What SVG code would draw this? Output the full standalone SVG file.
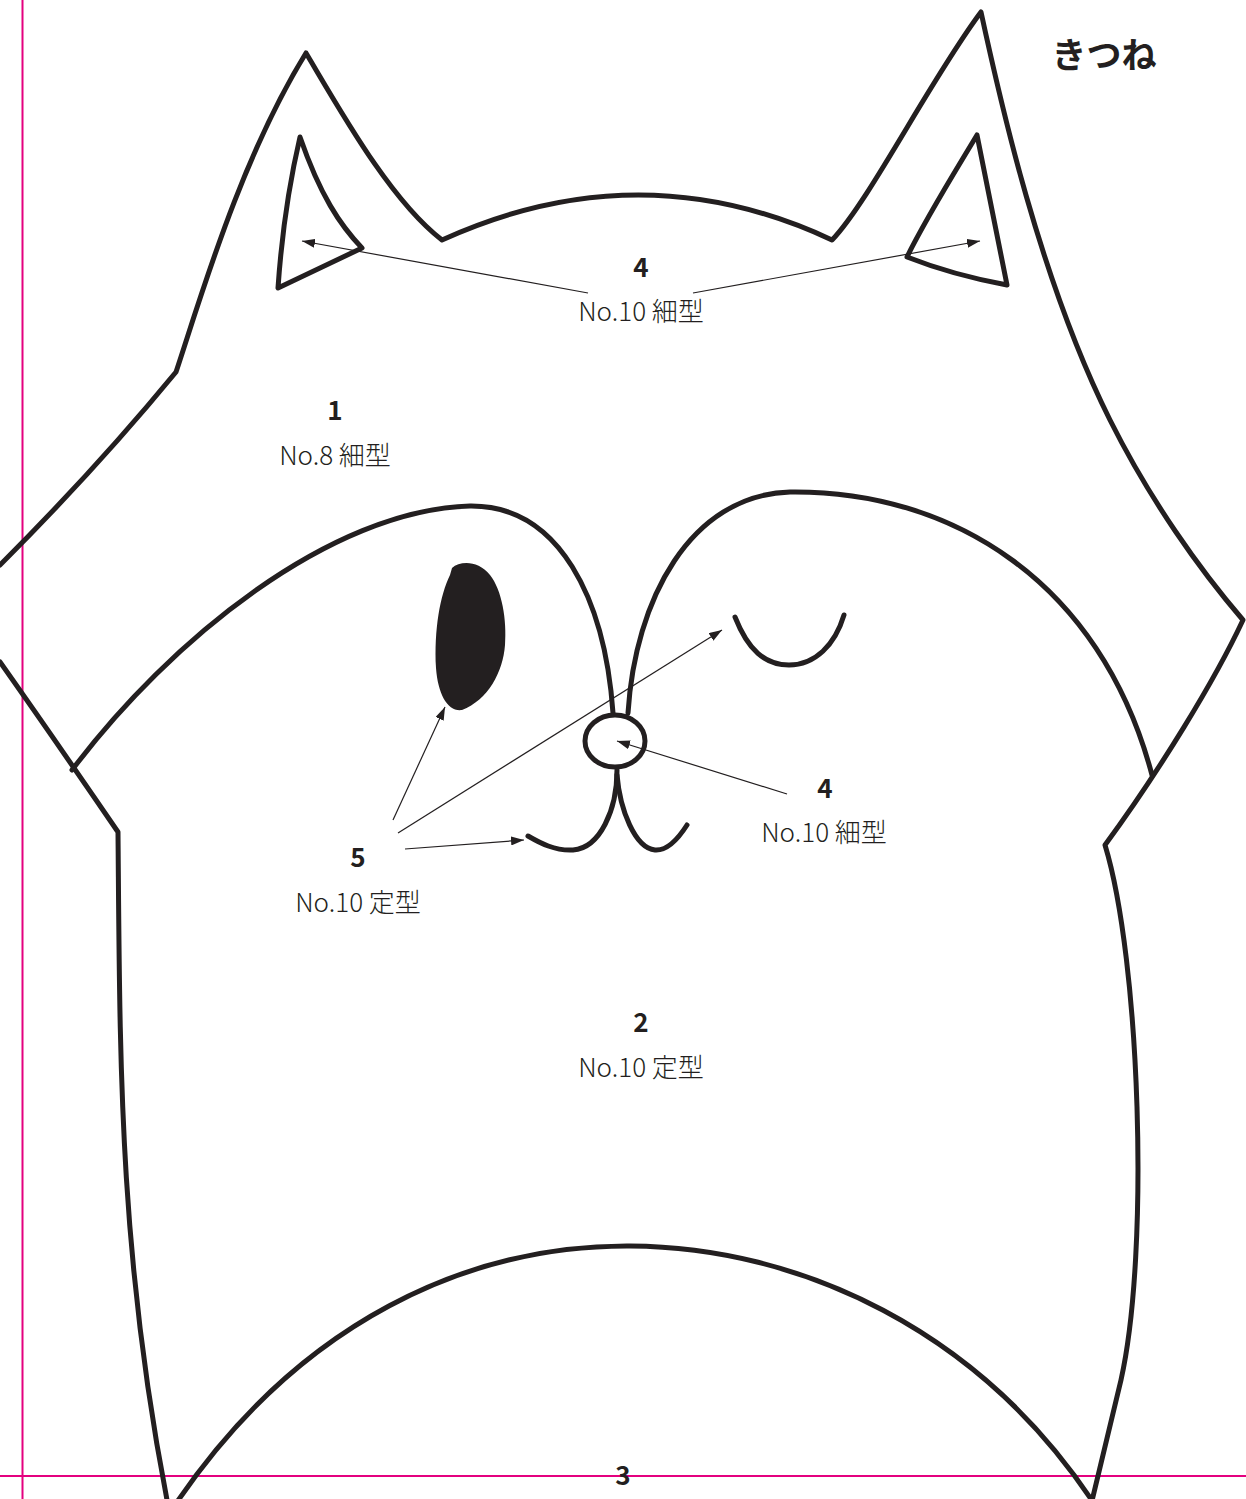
<svg xmlns="http://www.w3.org/2000/svg" width="1246" height="1499" viewBox="0 0 1246 1499">
<style>
.o{fill:none;stroke:#231f20;stroke-width:5;stroke-linejoin:round;stroke-linecap:round}
.c{fill:none;stroke:#231f20;stroke-width:1.2}
.guide{stroke:#e4007f;stroke-width:2}
.n{font-family:"Noto Sans CJK JP","Noto Sans",sans-serif;font-weight:700;font-size:26px;fill:#231f20;text-anchor:middle}
.l{font-family:"Noto Sans CJK JP","Noto Sans",sans-serif;font-weight:300;font-size:26px;fill:#231f20;text-anchor:middle}
.t{font-family:"Noto Sans CJK JP",sans-serif;font-weight:700;font-size:35px;fill:#231f20;text-anchor:middle}
</style>
<defs>
<marker id="ah" markerWidth="13" markerHeight="9" refX="13" refY="4.5" orient="auto" markerUnits="userSpaceOnUse">
<path d="M0,0 L13,4.5 L0,9 Z" fill="#231f20"/>
</marker>
</defs>
<rect width="1246" height="1499" fill="#fff"/>
<g id="guides">
<line class="guide" x1="22.5" y1="0" x2="22.5" y2="1499"/>
<line class="guide" x1="0" y1="1476" x2="1246" y2="1476"/>
</g>
<g id="piece1-head">
<path class="o" d="M0,565 C60,505 120,440 176,372 C200,300 240,160 306,53 C340,110 390,200 442,240 Q640,150 832,240 C870,200 930,80 981,12 C1000,100 1040,280 1110,420 C1150,500 1200,570 1243,620 C1215,680 1160,770 1105,845 C1140,960 1150,1250 1121,1380 L1091,1505"/>
<path class="o" d="M0,662 Q55,740 118,832 C120,1050 118,1250 168,1505"/>
<text class="n" x="335" y="420">1</text>
<text class="l" x="335" y="465">No.8 細型</text>
</g>
<g id="piece2-face">
<path class="o" d="M72,770 C170,640 330,510 470,506 C560,505 605,600 613,713"/>
<path class="o" d="M628,713 C635,600 690,495 790,492 C950,490 1100,580 1152,775"/>
<text class="n" x="641" y="1032">2</text>
<text class="l" x="641" y="1077">No.10 定型</text>
</g>
<g id="piece3-bottom">
<path class="o" d="M175,1505 C300,1320 470,1245 630,1246 C800,1247 980,1330 1095,1505"/>
<text class="n" x="623" y="1485">3</text>
</g>
<g id="piece4-ears">
<path class="o" d="M300,137 C320,195 340,225 362,248 L278,288 C282,230 290,180 300,137 Z"/>
<path class="o" d="M977,135 L1007,285 C980,280 940,270 907,257 C925,220 950,180 977,135 Z"/>
<text class="n" x="641" y="277">4</text>
<text class="l" x="641" y="321">No.10 細型</text>
</g>
<g id="piece4-nose">
<ellipse class="o" cx="615" cy="741" rx="30" ry="26"/>
<text class="n" x="825" y="798">4</text>
<text class="l" x="824" y="842">No.10 細型</text>
</g>
<g id="piece5-eyes-mouth">
<path d="M452,568 C460,561 478,560 490,575 C502,590 507,620 505,645 C503,672 488,700 462,710 C448,712 438,695 436,668 C434,630 440,595 450,575 Z" fill="#231f20"/>
<path class="o" d="M735,617 C748,650 765,665 789,665 C815,665 835,645 844,615"/>
<path class="o" d="M617,770 C617,810 600,848 573,850 C555,851 540,843 528,836"/>
<path class="o" d="M617,775 C620,810 635,848 655,850 C668,851 680,836 687,825"/>
<text class="n" x="358" y="867">5</text>
<text class="l" x="358" y="912">No.10 定型</text>
</g>
<g id="connectors">
<line class="c" x1="588" y1="293" x2="302" y2="241" marker-end="url(#ah)"/>
<line class="c" x1="693" y1="293" x2="980" y2="241" marker-end="url(#ah)"/>
<line class="c" x1="393" y1="820" x2="445" y2="707" marker-end="url(#ah)"/>
<line class="c" x1="398" y1="833" x2="722" y2="630" marker-end="url(#ah)"/>
<line class="c" x1="405" y1="849" x2="524" y2="840" marker-end="url(#ah)"/>
<line class="c" x1="787" y1="794" x2="617" y2="741" marker-end="url(#ah)"/>
</g>
<g id="title">
<text class="t" x="1104" y="68">きつね</text>
</g>
</svg>
